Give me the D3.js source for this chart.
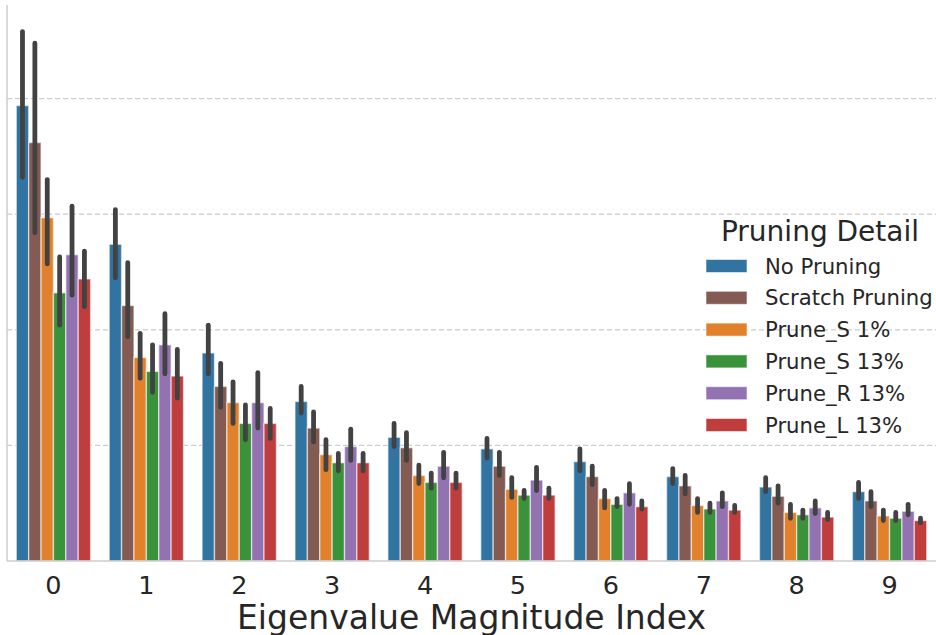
<!DOCTYPE html>
<html>
<head>
<meta charset="utf-8">
<script src="https://cdn.jsdelivr.net/npm/d3@7"></script>
<style>
  body { margin: 0; background: #fff; }
  svg { display: block; font-family: 'DejaVu Sans', sans-serif; }
</style>
</head>
<body>
<div id="chart"></div>
<script>
const categories = ['0', '1', '2', '3', '4', '5', '6', '7', '8', '9'];
const seriesNames = ['No Pruning', 'Scratch Pruning', 'Prune_S 1%', 'Prune_S 13%', 'Prune_R 13%', 'Prune_L 13%'];
const seriesColors = ['#3274a1', '#845b53', '#e1812c', '#3a923a', '#9372b2', '#c03d3e'];
const gridTicks = [1, 2, 3, 4];

// bar heights, one row per series
const means = [
  [3.94, 2.74, 1.80, 1.38, 1.07, 0.97, 0.86, 0.73, 0.64, 0.60],
  [3.62, 2.21, 1.51, 1.15, 0.98, 0.82, 0.73, 0.65, 0.56, 0.52],
  [2.97, 1.76, 1.37, 0.92, 0.74, 0.62, 0.54, 0.48, 0.42, 0.39],
  [2.32, 1.64, 1.19, 0.85, 0.68, 0.57, 0.49, 0.45, 0.40, 0.37],
  [2.65, 1.87, 1.37, 0.99, 0.82, 0.70, 0.59, 0.52, 0.46, 0.43],
  [2.44, 1.60, 1.19, 0.85, 0.68, 0.57, 0.47, 0.44, 0.38, 0.35]
];
// error bar ends
const ciLow = [
  [3.32, 2.45, 1.62, 1.28, 0.99, 0.89, 0.78, 0.67, 0.60, 0.54],
  [2.84, 1.94, 1.33, 1.03, 0.87, 0.74, 0.66, 0.58, 0.50, 0.47],
  [2.57, 1.58, 1.19, 0.79, 0.67, 0.55, 0.46, 0.42, 0.37, 0.35],
  [2.04, 1.46, 1.05, 0.78, 0.63, 0.54, 0.47, 0.42, 0.37, 0.35],
  [2.30, 1.62, 1.15, 0.87, 0.72, 0.61, 0.49, 0.47, 0.41, 0.40],
  [2.20, 1.41, 1.06, 0.78, 0.63, 0.54, 0.45, 0.42, 0.36, 0.33]
];
const ciHigh = [
  [4.58, 3.04, 2.04, 1.51, 1.19, 1.06, 0.97, 0.80, 0.72, 0.68],
  [4.48, 2.58, 1.71, 1.29, 1.11, 0.94, 0.82, 0.74, 0.65, 0.60],
  [3.30, 1.97, 1.55, 1.05, 0.83, 0.72, 0.61, 0.54, 0.49, 0.44],
  [2.63, 1.87, 1.35, 0.93, 0.76, 0.61, 0.54, 0.50, 0.44, 0.42],
  [3.07, 2.14, 1.63, 1.14, 0.94, 0.81, 0.67, 0.59, 0.52, 0.49],
  [2.68, 1.83, 1.32, 0.93, 0.76, 0.63, 0.52, 0.48, 0.42, 0.37]
];

const width = 936, height = 635;
const plotLeft = 7, plotRight = 936, plotTop = 5, plotBottom = 561;

let svg = d3.select('#chart').append('svg')
.attr('width', width)
.attr('height', height)

let x = d3.scaleBand()
.domain(categories)
.range([plotLeft, plotRight])
.padding(0)

let xInner = d3.scaleBand()
.domain(seriesNames)
.range([x.bandwidth() * 0.1, x.bandwidth() * 0.9])

let y = d3.scaleLinear()
.domain([0, 4.81])
.range([plotBottom, plotTop])

// grid
svg.append('g')
.selectAll('line')
.data(gridTicks)
.enter()
.append('line')
.attr('x1', plotLeft)
.attr('x2', plotRight)
.attr('y1', d => y(d))
.attr('y2', d => y(d))
.attr('stroke', '#cccccc')
.attr('stroke-width', 1.2)
.attr('stroke-dasharray', '5,3')

let rows = [];
seriesNames.forEach((s, i) => {
	categories.forEach((c, j) => {
		rows.push({series: s, cat: c, color: seriesColors[i], v: means[i][j], lo: ciLow[i][j], hi: ciHigh[i][j]})
	})
})

svg.append('g')
.selectAll('rect')
.data(rows)
.enter()
.append('rect')
.attr('x', d => x(d.cat) + xInner(d.series))
.attr('width', xInner.bandwidth())
.attr('y', d => y(d.v))
.attr('height', d => y(0) - y(d.v))
.attr('fill', d => d.color)
.attr('stroke', 'rgba(255,255,255,0.55)')
.attr('stroke-width', 1.4)

svg.append('g')
.selectAll('line')
.data(rows)
.enter()
.append('line')
.attr('x1', d => x(d.cat) + xInner(d.series) + xInner.bandwidth() / 2)
.attr('x2', d => x(d.cat) + xInner(d.series) + xInner.bandwidth() / 2)
.attr('y1', d => y(d.hi))
.attr('y2', d => y(d.lo))
.attr('stroke', '#424242')
.attr('stroke-width', 4.8)
.attr('stroke-linecap', 'round')

// spines
svg.append('line')
.attr('x1', plotLeft).attr('x2', plotLeft)
.attr('y1', plotTop).attr('y2', plotBottom)
.attr('stroke', '#cccccc').attr('stroke-width', 1.5)

svg.append('line')
.attr('x1', plotLeft).attr('x2', plotRight)
.attr('y1', plotBottom).attr('y2', plotBottom)
.attr('stroke', '#cccccc').attr('stroke-width', 1.5)

// x axis labels
svg.append('g')
.selectAll('text')
.data(categories)
.enter()
.append('text')
.attr('x', d => x(d) + x.bandwidth() / 2)
.attr('y', 594)
.attr('text-anchor', 'middle')
.attr('font-size', 25.5)
.attr('fill', '#262626')
.text(d => d)

svg.append('text')
.attr('x', (plotLeft + plotRight) / 2)
.attr('y', 629)
.attr('text-anchor', 'middle')
.attr('font-size', 33)
.attr('fill', '#262626')
.text('Eigenvalue Magnitude Index')

// legend
let legend = svg.append('g')

legend.append('text')
.attr('x', 820)
.attr('y', 241)
.attr('text-anchor', 'middle')
.attr('font-size', 28)
.attr('fill', '#262626')
.text('Pruning Detail')

let items = legend.selectAll('g.item')
.data(seriesNames)
.enter()
.append('g')
.attr('class', 'item')
.attr('transform', (d, i) => 'translate(0,' + (266 + i * 31.8) + ')')

items.append('rect')
.attr('x', 706)
.attr('y', -6.5)
.attr('width', 41)
.attr('height', 13)
.attr('fill', (d, i) => seriesColors[i])
.attr('stroke', 'rgba(255,255,255,0.55)')
.attr('stroke-width', 1)

items.append('text')
.attr('x', 765)
.attr('y', 7.5)
.attr('font-size', 21.2)
.attr('fill', '#262626')
.text(d => d)
</script>
</body>
</html>
